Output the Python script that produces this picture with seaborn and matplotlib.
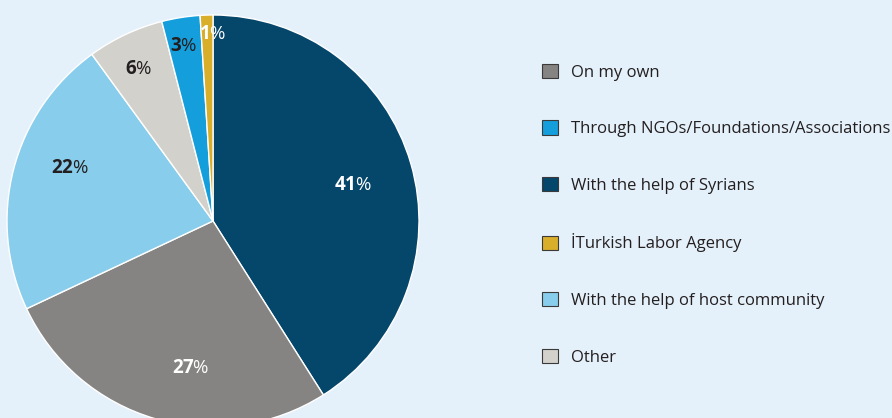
import numpy as np
import matplotlib
matplotlib.use("Agg")
import matplotlib.pyplot as plt
from matplotlib.patches import Patch
import seaborn as sns

# data (legend order)
categories = ["On my own", "Through NGOs/Foundations/Associations", "With the help of Syrians",
              "İTurkish Labor Agency", "With the help of host community", "Other"]
shares = [27, 3, 41, 1, 22, 6]
colors = ["#858482", "#149fdc", "#05466b", "#d9ae2a", "#88cdec", "#d2d1cc"]
text_colors = ["white", "#231f20", "white", "white", "#231f20", "#231f20"]
# clockwise order of the slices starting at 12 o'clock
pie_order = [2, 0, 4, 5, 1, 3]
# label placement (radius fraction, angle nudge in degrees), pie order
label_radius = [0.70, 0.72, 0.74, 0.82, 0.86, 0.91]
label_nudge = [-1.7, 7.7, -5.9, 0.9, 0.4, -1.8]

sns.set_style("white")
plt.rcParams["font.family"] = ["Open Sans", "DejaVu Sans"]
plt.rcParams["mathtext.fontset"] = "custom"
plt.rcParams["mathtext.rm"] = "Open Sans"
plt.rcParams["mathtext.bf"] = "Open Sans:bold"

bg = "#e5f1fa"
fig = plt.figure(figsize=(8.92, 4.18), dpi=100, facecolor=bg)
ax = fig.add_axes([7 / 892, -9 / 418, 412 / 892, 412 / 418])
ax.set_facecolor(bg)

vals = [shares[i] for i in pie_order]
cols = [colors[i] for i in pie_order]
wedges, _ = ax.pie(vals, colors=cols, startangle=90, counterclock=False,
                   wedgeprops=dict(edgecolor="white", linewidth=1.0))

for w, i, r, d in zip(wedges, pie_order, label_radius, label_nudge):
    ang = np.deg2rad((w.theta1 + w.theta2) / 2 + d)
    ax.text(r * np.cos(ang), r * np.sin(ang), r"$\mathbf{%d}$%%" % shares[i],
            ha="center", va="center", fontsize=13.5, color=text_colors[i])

ax.set_xlim(-1, 1)
ax.set_ylim(-1, 1)
ax.set_aspect("equal")
ax.axis("off")

handles = [Patch(facecolor=c, edgecolor="#3a3a3a", linewidth=0.8) for c in colors]
leg = fig.legend(handles, categories, loc="upper left", bbox_to_anchor=(535 / 892, 1 - 57 / 418),
                 frameon=False, fontsize=12, handlelength=0.95, handleheight=0.95,
                 handletextpad=0.8, labelspacing=2.38, borderaxespad=0)
for t in leg.get_texts():
    t.set_color("#231f20")

fig.savefig("out.png", dpi=100, facecolor=bg)
